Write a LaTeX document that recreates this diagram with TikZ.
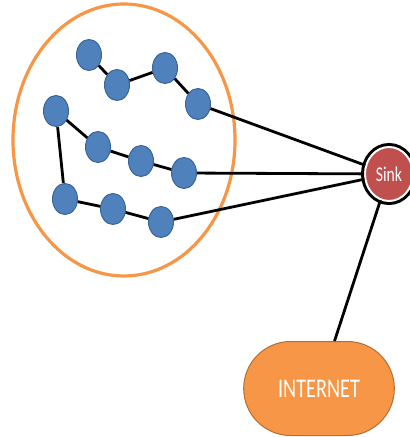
\documentclass[tikz,border=0pt]{standalone}
\usepackage{fontspec}
\usepackage{tikz}
\usetikzlibrary{shapes.geometric, shapes.misc}

\newfontfamily\labelfont[FakeStretch=0.75]{Carlito}

\definecolor{moteblue}{HTML}{4F81BD}
\definecolor{moteedge}{HTML}{3A6598}
\definecolor{clusterorange}{HTML}{F79646}
\definecolor{netedge}{HTML}{B66D31}
\definecolor{sinkred}{HTML}{C0504D}

\begin{document}
\begin{tikzpicture}[x = 0.5pt, y = -0.5pt,
    mote/.style = {ellipse, fill = moteblue, draw = moteedge, line width = 0.5pt,
      minimum width = 12.5pt, minimum height = 15.5pt, inner sep = 0},
    link/.style = {line width = 1.4pt, black},
    sinknode/.style = {ellipse, fill = sinkred, draw = white, line width = 1pt,
      preaction = {draw = black, line width = 4pt},
      minimum width = 24pt, minimum height = 27pt, inner sep = 0,
      text = white, font = \labelfont\fontsize{10.5}{10.5}\selectfont},
    cloud/.style = {rounded rectangle, fill = clusterorange, draw = netedge,
      line width = 0.5pt, minimum width = 82pt, minimum height = 47pt,
      text = white, font = \labelfont\fontsize{13.5}{13.5}\selectfont}]
    \useasboundingbox (0, 0) rectangle (410, 437);

    \draw [clusterorange, line width = 1.6pt] (124, 140) ellipse [x radius = 55.5pt, y radius = 68pt];

    \node [mote] (a1) at (89, 55) {};
    \node [mote] (a2) at (117, 85) {};
    \node [mote] (a3) at (165, 68) {};
    \node [mote] (a4) at (198, 104) {};

    \node [mote] (b1) at (56, 111) {};
    \node [mote] (b2) at (98, 147) {};
    \node [mote] (b3) at (141, 161) {};
    \node [mote] (b4) at (184, 173) {};

    \node [mote] (c1) at (65, 199) {};
    \node [mote] (c2) at (113, 209) {};
    \node [mote] (c3) at (161, 222) {};

    \node [sinknode] (sink) at (389, 174) {Sink};
    \node [cloud] (internet) at (319, 388.5) {INTERNET};

    \draw [link] (a1) -- (a2) -- (a3) -- (a4) -- (sink);
    \draw [link] (b1) -- (b2) -- (b3) -- (b4) -- (sink);
    \draw [link] (b1) -- (c1) -- (c2) -- (c3) -- (sink);
    \draw [link] (sink) -- (internet);
  \end{tikzpicture}
\end{document}
